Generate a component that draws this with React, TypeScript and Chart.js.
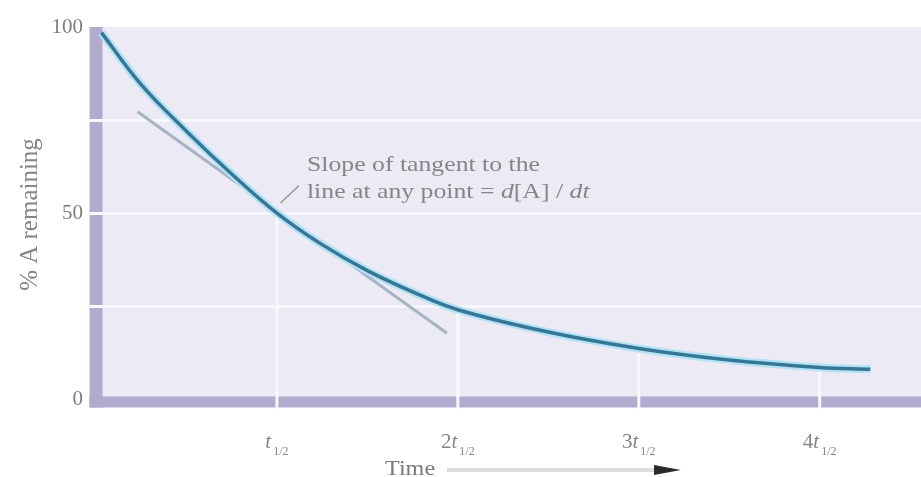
import { useEffect, useRef } from 'react'
import { Chart, registerables } from 'chart.js'
Chart.register(...registerables)

// decay curve (t in half-lives, % A remaining)
const curveT = [0.03, 0.25, 0.5, 0.75, 1, 1.25, 1.5, 1.75, 2, 2.5, 3, 3.5, 4, 4.28]
const curveV = [98.5, 84.5, 72, 60.5, 50, 41.5, 34.5, 28.8, 24, 18, 13.6, 10.5, 8.5, 8]
// tangent drawn at t1/2
const tanT = [0.23, 1.94]
const tanV = [77.2, 17.7]
// little leader from the note to the tangent point
const leadT = [1.02, 1.12]
const leadV = [52.7, 57.3]
// white drop lines under the curve at each half-life
const dropT = [1, 2, 3, 4]
const dropTop = [50, 24, 13.6, 8.5]
const dropBottom = -2.6
// axis ticks
const xTicks = [1, 2, 3, 4]
const xTickCoef = ['', '2', '3', '4']
const yTicks = [0, 25, 50, 75, 100]
const yLabelled = [0, 50, 100]

const SERIF = "'Liberation Serif', 'Times New Roman', serif"
const TEXT = '#858585'
// where the note sits (data units)
const noteT = 1.166
const noteV = 61.3

const decor = {
  id: 'decor',
  beforeDraw(chart: Chart) {
    const { ctx, chartArea: a } = chart
    ctx.save()
    ctx.fillStyle = '#ecebf5'
    ctx.fillRect(a.left, a.top, a.right - a.left, a.bottom - a.top)
    ctx.fillStyle = '#b2abd0'
    ctx.fillRect(a.left - 6.5, a.top, 13, a.bottom - a.top + 5.5)
    ctx.fillRect(a.left - 6.5, a.bottom - 5.5, a.right - a.left + 6.5, 11)
    ctx.restore()
  },
  afterDraw(chart: Chart) {
    const { ctx, chartArea: a } = chart
    const xs = chart.scales.x, ys = chart.scales.y
    ctx.save()
    ctx.fillStyle = TEXT
    ctx.textBaseline = 'alphabetic'
    ctx.textAlign = 'left'

    // x tick labels: n t(1/2)
    xTicks.forEach((v, i) => {
      const coef = xTickCoef[i]
      ctx.font = `21px ${SERIF}`; const wc = ctx.measureText(coef).width
      ctx.font = `italic 21px ${SERIF}`; const wt = ctx.measureText('t').width
      ctx.font = `12px ${SERIF}`; const ws = ctx.measureText('1/2').width
      let x = xs.getPixelForValue(v) - (wc + wt + 2 + ws) / 2
      const base = a.bottom + 46
      ctx.font = `21px ${SERIF}`; ctx.fillText(coef, x, base); x += wc
      ctx.font = `italic 21px ${SERIF}`; ctx.fillText('t', x, base); x += wt + 2
      ctx.font = `12px ${SERIF}`; ctx.fillText('1/2', x, base + 7)
    })

    // "Time" with arrow
    const ty = a.bottom + 73
    ctx.save()
    ctx.translate(385, ty)
    ctx.scale(1.15, 1)
    ctx.font = `21px ${SERIF}`
    ctx.fillStyle = '#7a7a7a'
    ctx.fillText('Time', 0, 0)
    ctx.restore()
    ctx.strokeStyle = '#dcdcdc'
    ctx.lineWidth = 4
    ctx.beginPath(); ctx.moveTo(447, ty - 5); ctx.lineTo(658, ty - 5); ctx.stroke()
    ctx.fillStyle = '#2b2b2b'
    ctx.beginPath()
    ctx.moveTo(654, ty - 10); ctx.lineTo(681, ty - 5); ctx.lineTo(654, ty); ctx.closePath(); ctx.fill()

    // note about the tangent
    const nx = xs.getPixelForValue(noteT), ny = ys.getPixelForValue(noteV)
    const rich = (parts: [string, boolean][], y: number) => {
      ctx.save()
      ctx.translate(nx, y)
      ctx.scale(1.17, 1)
      let x = 0
      parts.forEach(([s, it]) => {
        ctx.font = `${it ? 'italic ' : ''}22px ${SERIF}`
        ctx.fillText(s, x, 0)
        x += ctx.measureText(s).width
      })
      ctx.restore()
    }
    ctx.fillStyle = TEXT
    rich([['Slope of tangent to the', false]], ny)
    rich([['line at any point = ', false], ['d', true], ['[A] / ', false], ['dt', true]], ny + 27)
    ctx.restore()
  },
}

export default function App() {
  const ref = useRef<HTMLCanvasElement>(null)
  const chartRef = useRef<Chart | null>(null)

  useEffect(() => {
    if (chartRef.current) chartRef.current.destroy()
    if (!ref.current) return
    const pts = (t: number[], v: number[]) => t.map((x, i) => ({ x, y: v[i] }))
    const drops = dropT.map((t, i) => ({
      data: [{ x: t, y: dropTop[i] }, { x: t, y: dropBottom }],
      borderColor: '#f8f7fd', borderWidth: 3, pointRadius: 0, clip: false as const,
    }))
    chartRef.current = new Chart(ref.current, {
      type: 'line',
      data: {
        datasets: [
          { data: pts(curveT, curveV), borderColor: '#387695', borderWidth: 3.5, pointRadius: 0, tension: 0.4 },
          { data: pts(curveT, curveV), borderColor: '#b3e2f5', borderWidth: 8, pointRadius: 0, tension: 0.4 },
          { data: pts(leadT, leadV), borderColor: '#9a9a9a', borderWidth: 1.5, pointRadius: 0 },
          { data: pts(tanT, tanV), borderColor: '#a6b4c4', borderWidth: 3, pointRadius: 0 },
          ...drops,
        ],
      },
      options: {
        responsive: true, maintainAspectRatio: false, animation: false,
        layout: { padding: { top: 27, bottom: 75, left: 0, right: 0 } },
        plugins: { legend: { display: false }, tooltip: { enabled: false } },
        scales: {
          x: { type: 'linear', min: 0, max: 4.56, display: false },
          y: {
            type: 'linear', min: -0.8, max: 100,
            afterFit: (s: any) => { s.width = 96 },
            afterBuildTicks: (s: any) => { s.ticks = yTicks.map(value => ({ value })) },
            border: { display: false },
            grid: {
              color: (c: any) => (c.tick && c.tick.value > 0 && c.tick.value < 100 ? '#f8f7fd' : 'transparent'),
              lineWidth: 3, tickLength: 7,
            },
            ticks: {
              autoSkip: false, padding: 6, color: '#7d7d7d',
              font: { family: SERIF, size: 21 },
              callback: (v: any) => (yLabelled.includes(+v) ? String(v) : ''),
            },
            title: {
              display: true, text: '% A remaining', color: TEXT,
              font: { family: SERIF, size: 25 }, padding: { top: 15, bottom: 0 },
            },
          },
        },
      },
      plugins: [decor],
    })
    return () => { chartRef.current?.destroy() }
  }, [])

  return (
    <div style={{ position: 'fixed', left: 0, top: 0, width: 921, height: 477, background: '#fff' }}>
      <canvas ref={ref} />
    </div>
  )
}
